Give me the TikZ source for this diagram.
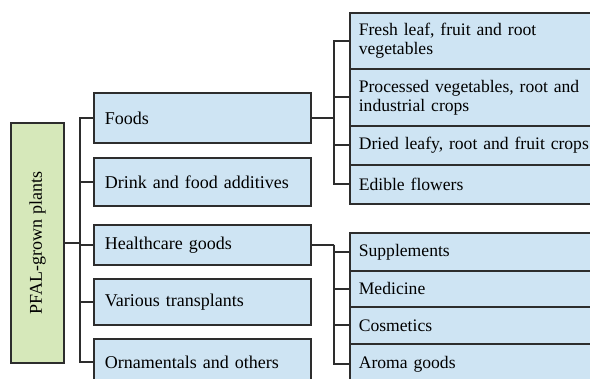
\documentclass[tikz,border=0pt]{standalone}
\usepackage{fontspec}
\setmainfont{Liberation Serif}
\usetikzlibrary{positioning}
\definecolor{catblue}{RGB}{206,228,243}
\definecolor{rootgreen}{RGB}{214,232,186}
\definecolor{edgegray}{RGB}{45,45,45}
\newcommand{\midfill}{catblue}
\newcommand{\rootfill}{rootgreen}
\tikzset{
  catbox/.style={draw=edgegray, line width=1.7pt, fill=\midfill, anchor=north west,
    align=left, inner xsep=11pt, inner ysep=2pt,
    font=\fontsize{18}{19}\selectfont},
  subbox/.style={catbox, inner xsep=9pt, text width=270pt,
    font=\fontsize{17.6}{19}\selectfont},
  link/.style={draw=edgegray, line width=1.7pt}
}

\begin{document}
\begin{tikzpicture}[x=1pt, y=-1pt]
    \clip (0,0) rectangle (590,379);
    \fill[white] (0,0) rectangle (590,379);
    % root
    \node[draw=edgegray, line width=1.7pt, fill=\rootfill, minimum width=53pt, minimum height=240pt] (root) at (37.5,243) {};
    \node[rotate=90, font=\fontsize{18}{19}\selectfont] at (root.center) {PFAL-grown plants};
    % second level
    \node[catbox, text width=195pt, minimum height=50pt] (foods)  at (93,92)  {Foods};
    \node[catbox, text width=195pt, minimum height=48pt] (drink)  at (93,157) {Drink and food additives};
    \node[catbox, text width=195pt, minimum height=40pt] (health) at (93,224) {Healthcare goods};
    \node[catbox, text width=195pt, minimum height=46pt] (transp) at (93,278) {Various transplants};
    \node[catbox, text width=195pt, minimum height=47pt] (ornam)  at (93,338) {Ornamentals and others};
    % foods
    \node[subbox, minimum height=56pt] (fresh)   at (349,12)  {Fresh leaf, fruit and root\\vegetables};
    \node[subbox, minimum height=57pt] (proc)    at (349,68)  {Processed vegetables, root and\\industrial crops};
    \node[subbox, minimum height=39pt] (dried)   at (349,125) {Dried leafy, root and fruit crops};
    \node[subbox, minimum height=39pt] (flowers) at (349,164) {Edible flowers};
    % healthcare
    \node[subbox, minimum height=38pt] (suppl) at (349,232) {Supplements};
    \node[subbox, minimum height=36pt] (medic) at (349,270) {Medicine};
    \node[subbox, minimum height=37pt] (cosm)  at (349,306) {Cosmetics};
    \node[subbox, minimum height=40pt] (aroma) at (349,343) {Aroma goods};
    % connectors
    \draw[link] (root.east) -- ++(15,0) coordinate (jr);
    \foreach \n in {foods,drink,health,transp,ornam}
        \draw[link] (jr) |- (\n.west);
    \draw[link] (foods.east) -- ++(22,0) coordinate (jf);
    \foreach \n in {fresh,proc,dried,flowers}
        \draw[link] (jf) |- (\n.west);
    \draw[link] (health.east) -- ++(22,0) coordinate (jh);
    \foreach \n in {suppl,medic,cosm,aroma}
        \draw[link] (jh) |- (\n.west);
\end{tikzpicture}
\end{document}
